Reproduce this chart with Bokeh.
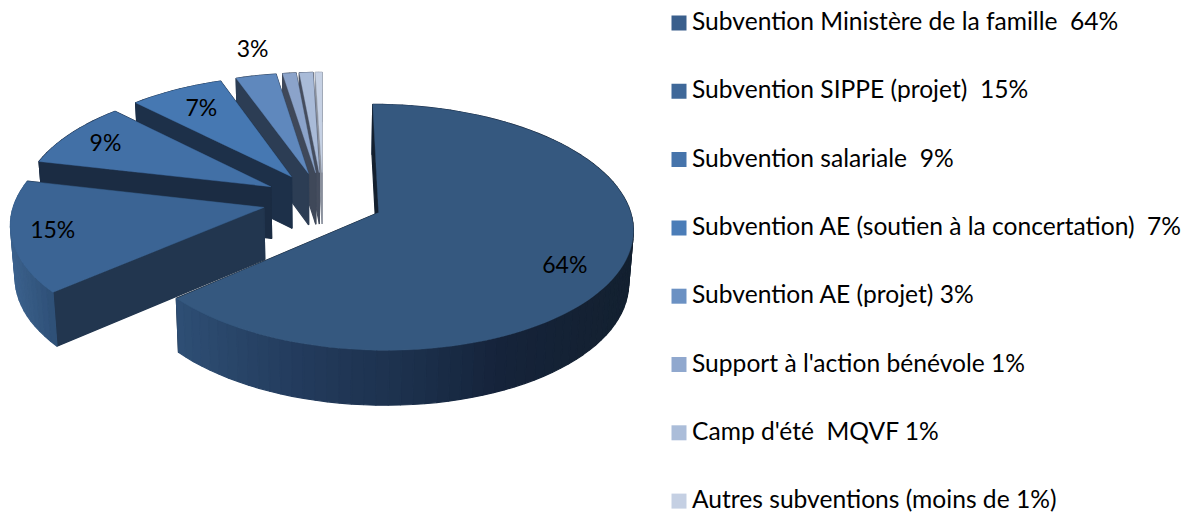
import numpy as np
from bokeh.plotting import figure
from bokeh.models import Range1d
from bokeh.core.properties import value
from bokeh.embed import file_html
from bokeh.resources import INLINE

# ---- data
categories = ["Subvention Ministère de la famille", "Subvention SIPPE (projet)", "Subvention salariale",
              "Subvention AE (soutien à la concertation)", "Subvention AE (projet)",
              "Support à l'action bénévole", "Camp d'été  MQVF", "Autres subventions"]
values = [64, 15, 9, 7, 3, 1, 1, 0.5]
legend_labels = ["Subvention Ministère de la famille \u00a064%", "Subvention SIPPE (projet) \u00a015%",
                 "Subvention salariale \u00a09%", "Subvention AE (soutien à la concertation) \u00a07%",
                 "Subvention AE (projet) 3%", "Support à l'action bénévole 1%",
                 "Camp d'été \u00a0MQVF 1%", "Autres subventions (moins de 1%)"]
pct_labels = ["64%", "15%", "9%", "7%", "3%"]

# ---- styles
top_colors = ["#35587F", "#3B6494", "#4270A6", "#4678B2", "#5F88BD", "#8BA3CA", "#A9BBD8", "#C6D1E4"]
legend_colors = ["#3A5F8C", "#3F6899", "#4674AB", "#4B7DB8", "#6B91C3", "#90A8CE", "#ABBDD9", "#C5D0E3"]
side_colors = ["#14202F", "#22364F", "#1B2C43", "#1D3049", "#2C3D54", "#3F4859", "#454D5E", "#8A909C"]
arc_stops_x = [[178, 300, 420, 500, 640], [8, 54]]
arc_stops_c = [["#2E4E74", "#233B5C", "#1B2F4A", "#15233A", "#13202F"], ["#3C628E", "#2E4F76"]]

# ---- projection parameters (page pixels)
W, H = 1186, 513
XV, YC, A, B, K = 322.5, 200.0, 249.0, 118.3, 0.118
EXPLODE, XS, YS, DEPTH = 0.243, 0.985, 1.02, 52.0
LEG_X, LEG_Y0, LEG_DY = 671, 22.5, 68.3
FONT = "Lato"


def project(x, z):
    w = 1 + K * z
    return XV + A * x / w, YC - B * z / w


def lower(sx, sy):
    return XV + (sx - XV) * XS, YC + (sy - YC) * YS + DEPTH


def hex_mix(xs, stops, cols):
    rgb = np.array([[int(c[i:i + 2], 16) for i in (1, 3, 5)] for c in cols], float)
    return "#%02x%02x%02x" % tuple(int(round(np.interp(xs, stops, rgb[:, j]))) for j in range(3))


total = sum(values)
edges = np.radians(np.concatenate([[0], np.cumsum(values)]) / total * 360)
label_nudges = [(13, 14), (-31, 0), (-19, -6), (-5, -6), (-17, -53)]

p = figure(width=W, height=H, output_backend="svg", toolbar_location=None,
           x_range=Range1d(0, W), y_range=Range1d(H, 0),
           x_axis_location=None, y_axis_location=None, min_border=0, outline_line_color=None)
p.grid.visible = False

pxs, pys, pcs, plw = [], [], [], []
label_x, label_y = [], []
for i in range(len(values) - 1, -1, -1):
    a0, a1 = edges[i], edges[i + 1]
    mid = (a0 + a1) / 2
    ax, az = EXPLODE * np.sin(mid), EXPLODE * np.cos(mid)
    th = np.linspace(a0, a1, max(3, int(np.degrees(a1 - a0) / 2.5) + 2))
    top = [project(ax, az)] + [project(ax + np.sin(t), az + np.cos(t)) for t in th]
    walls = []
    for q0, q1 in ((top[0], top[1]), (top[0], top[-1])):
        b0, b1 = lower(*q0), lower(*q1)
        walls.append(((q0[0], q1[0], b1[0], b0[0]), (q0[1], q1[1], b1[1], b0[1]), side_colors[i]))
    for j in range(1, len(top) - 1):
        q0, q1 = top[j], top[j + 1]
        b0, b1 = lower(*q0), lower(*q1)
        if i < len(arc_stops_x):
            c = hex_mix((q0[0] + q1[0]) / 2, arc_stops_x[i], arc_stops_c[i])
        else:
            c = side_colors[i]
        walls.append(((q0[0], q1[0], b1[0], b0[0]), (q0[1], q1[1], b1[1], b0[1]), c))
    walls.sort(key=lambda q: np.mean(q[1]))
    for qx, qy, c in walls:
        pxs.append(list(qx)); pys.append(list(qy)); pcs.append(c); plw.append(1.2)
    pxs.append([q[0] for q in top]); pys.append([q[1] for q in top]); pcs.append(top_colors[i]); plw.append(0.4)
    if i < len(pct_labels):
        lx, ly = project(ax + 0.72 * np.sin(mid), az + 0.72 * np.cos(mid))
        label_x.append(lx + label_nudges[i][0]); label_y.append(ly + label_nudges[i][1])

p.patches(xs="xs", ys="ys", fill_color="c", line_color="c", line_width="lw",
          source=dict(xs=pxs, ys=pys, c=pcs, lw=plw))

p.text(label_x, label_y, text=pct_labels[::-1], text_font=value(FONT), text_font_size="23px",
       text_color="#000000", text_align="center", text_baseline="middle")

leg_y = [LEG_Y0 + LEG_DY * k for k in range(len(legend_labels))]
p.rect([LEG_X + 7.5] * len(leg_y), leg_y, width=15, height=15, fill_color=legend_colors, line_color=None)
p.text([LEG_X + 20.5] * len(leg_y), [y - 2.5 for y in leg_y], text=legend_labels, text_font=value(FONT), text_font_size="24.6px",
       text_color="#000000", text_align="left", text_baseline="middle")

open("out.html", "w").write(file_html(p, INLINE))
